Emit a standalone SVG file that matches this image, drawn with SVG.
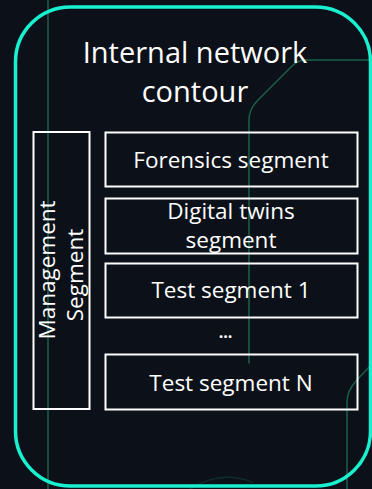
<svg xmlns="http://www.w3.org/2000/svg" width="372" height="489" viewBox="0 0 372 489">
  <style>
    .trace { fill: none; stroke: #1b5f47; stroke-width: 1.5; stroke-linecap: round; stroke-linejoin: round; }
    .seg { fill: none; stroke: #ffffff; stroke-width: 2; }
    .label { font-family: "Open Sans", "Liberation Sans", sans-serif; font-weight: 400; fill: #ffffff; text-anchor: middle; }
    .title { font-size: 29px; }
    .small { font-size: 22.5px; }
  </style>

  <!-- dark backdrop -->
  <rect x="0" y="0" width="372" height="489" fill="#0c1119"/>

  <!-- faint circuit traces in the background -->
  <g id="traces">
    <path class="trace" d="M48,0 V489"/>
    <path class="trace" d="M372,60 H306 Q298,60 292,66 L258,100 Q249,109 249,120 V363"/>
    <path class="trace" d="M372,364 L356,381 Q347,391 347,402 V489"/>
    <path class="trace" opacity="0.35" d="M190,489 Q220,470 252,482"/>
  </g>

  <!-- outer contour -->
  <g id="contour">
    <rect x="15.5" y="7" width="355" height="479" rx="55" ry="55" fill="none" stroke="#19f0d0" stroke-width="3.5"/>
    <text class="label title" x="195" y="63">Internal network</text>
    <text class="label title" x="195" y="102">contour</text>
  </g>

  <g id="management">
    <rect class="seg" x="33.5" y="132" width="56" height="277"/>
    <text class="label small" transform="translate(55,270) rotate(-90)">Management</text>
    <text class="label small" transform="translate(83,275) rotate(-90)">Segment</text>
  </g>

  <g id="forensics">
    <rect class="seg" x="105.5" y="132.5" width="252" height="54"/>
    <text class="label small" x="231" y="167.5">Forensics segment</text>
  </g>

  <g id="digital-twins">
    <rect class="seg" x="105.5" y="198.5" width="252" height="55"/>
    <text class="label small" x="231" y="219">Digital twins</text>
    <text class="label small" x="231" y="248">segment</text>
  </g>

  <g id="test-1">
    <rect class="seg" x="105.5" y="263.5" width="252" height="54"/>
    <text class="label small" x="231" y="298">Test segment 1</text>
  </g>

  <g id="ellipsis">
    <text class="label" x="225.5" y="337.5" font-size="16" style="font-weight:bold">...</text>
  </g>

  <g id="test-n">
    <rect class="seg" x="105.5" y="354.5" width="252" height="55"/>
    <text class="label small" x="231" y="390.5">Test segment N</text>
  </g>
</svg>
